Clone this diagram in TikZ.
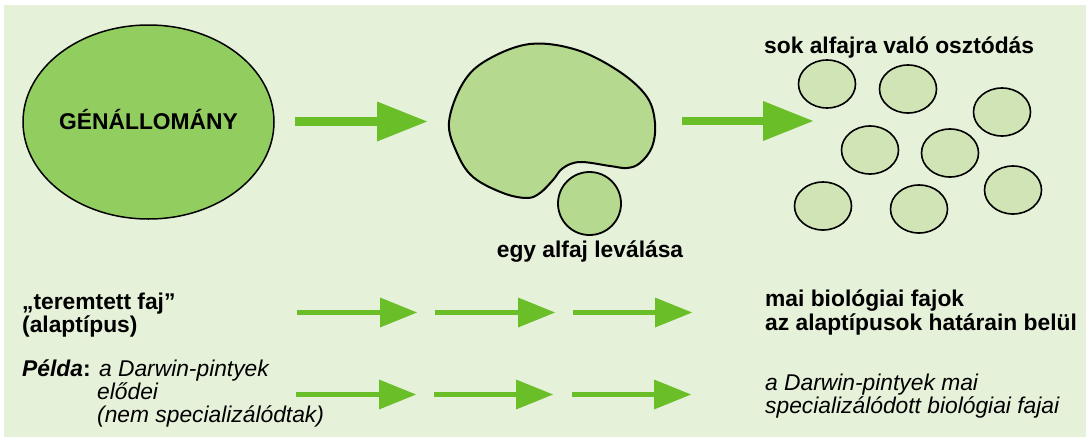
\documentclass[tikz,border=0pt]{standalone}
\usepackage{fontspec}
\setmainfont{Liberation Sans}
\usetikzlibrary{arrows.meta,shapes.geometric}
\definecolor{bg}{RGB}{230,241,218}
\definecolor{gene}{RGB}{146,205,96}
\definecolor{blobc}{RGB}{181,217,142}
\definecolor{smallc}{RGB}{208,228,182}
\definecolor{arr}{RGB}{106,190,40}
\begin{document}
\begin{tikzpicture}[x=1pt,y=-1pt,
  every node/.style={font=\fontsize{22.8}{23}\selectfont, inner sep=0pt, text=black},
  lbl/.style={anchor=base west, font=\fontsize{22.8}{23}\selectfont\bfseries},
  ilbl/.style={anchor=base west, font=\fontsize{22.8}{23}\selectfont\itshape},
  bigarrow/.style={draw=arr, line width=8.5pt, -{Triangle[length=50pt,width=40pt,line width=0pt]}},
  smallarrow/.style={draw=arr, line width=5pt, -{Triangle[length=37pt,width=30pt,line width=0pt]}},
  smallell/.style={ellipse, draw=black, line width=1.6pt, fill=smallc, minimum width=57pt, minimum height=48pt}
]
\path[use as bounding box] (0,0) rectangle (1091,439);
\fill[white] (0,0) rectangle (1091,439);
\fill[bg] (4,5) rectangle (1086,437);

% big ellipse
\node[ellipse, draw=black, line width=1.5pt, fill=gene, minimum width=251pt, minimum height=194pt] (gen) at (148.5,122) {};
\node[anchor=base, font=\fontsize{22.8}{23}\selectfont\bfseries] (gentext) at (148.5,129) {GÉNÁLLOMÁNY};

% blob
\draw[line width=2pt, fill=blobc] plot[smooth cycle, tension=0.6] coordinates {
  (449,122) (463,83) (487,60) (530,44) (577,50) (620,72) (647,97) (655,123)
  (652,147) (640,163) (627,168) (610,166) (580,162) (563,168) (553,180)
  (540,193) (527,198) (503,193) (473,177) (457,153)};
\node[circle, draw=black, line width=1.8pt, fill=blobc, minimum size=63pt] (sub) at (589.5,203.5) {};
\node[lbl, anchor=base] (subtext) at (590,257) {egy alfaj leválása};

% small ellipses
\node[lbl] (divtext) at (764,53) {sok alfajra való osztódás};
\node[smallell] (e1) at (827,84) {};
\node[smallell] (e2) at (908,89) {};
\node[smallell] (e3) at (1002,112) {};
\node[smallell] (e4) at (870,150) {};
\node[smallell] (e5) at (950,153) {};
\node[smallell] (e6) at (1013,190) {};
\node[smallell] (e7) at (823,206) {};
\node[smallell] (e8) at (919,209) {};

% big arrows
\coordinate (A1s) at (295,121.5);
\coordinate (A1e) at (427,121.5);
\coordinate (A2s) at (682,121);
\coordinate (A2e) at (813,121);
\draw[bigarrow] (A1s) -- (A1e);
\draw[bigarrow] (A2s) -- (A2e);

% row 1
\node[lbl] (t1) at (22,309) {„teremtett faj”};
\node[lbl] (t2) at (22,332) {(alaptípus)};
\coordinate (r1a) at (297,312.5); \coordinate (r1b) at (417,312.5);
\coordinate (r1c) at (435,312.5); \coordinate (r1d) at (555,312.5);
\coordinate (r1e) at (573,312.5); \coordinate (r1f) at (692,312.5);
\draw[smallarrow] (r1a) -- (r1b);
\draw[smallarrow] (r1c) -- (r1d);
\draw[smallarrow] (r1e) -- (r1f);
\node[lbl] (m1) at (765,306) {mai biológiai fajok};
\node[lbl] (m2) at (765,330) {az alaptípusok határain belül};

% row 2
\node[anchor=base west] (p1) at (22,376) {\textbf{\textit{Példa}:} \textit{a Darwin-pintyek}};
\node[ilbl] (p2) at (97,399) {elődei};
\node[ilbl] (p3) at (97,422) {(nem specializálódtak)};
\coordinate (r2a) at (296,394.5); \coordinate (r2b) at (416,394.5);
\coordinate (r2c) at (434,394.5); \coordinate (r2d) at (553,394.5);
\coordinate (r2e) at (572,394.5); \coordinate (r2f) at (691,394.5);
\draw[smallarrow] (r2a) -- (r2b);
\draw[smallarrow] (r2c) -- (r2d);
\draw[smallarrow] (r2e) -- (r2f);
\node[ilbl] (d1) at (765,390) {a Darwin-pintyek mai};
\node[ilbl] (d2) at (765,413) {specializálódott biológiai fajai};
\end{tikzpicture}
\end{document}
